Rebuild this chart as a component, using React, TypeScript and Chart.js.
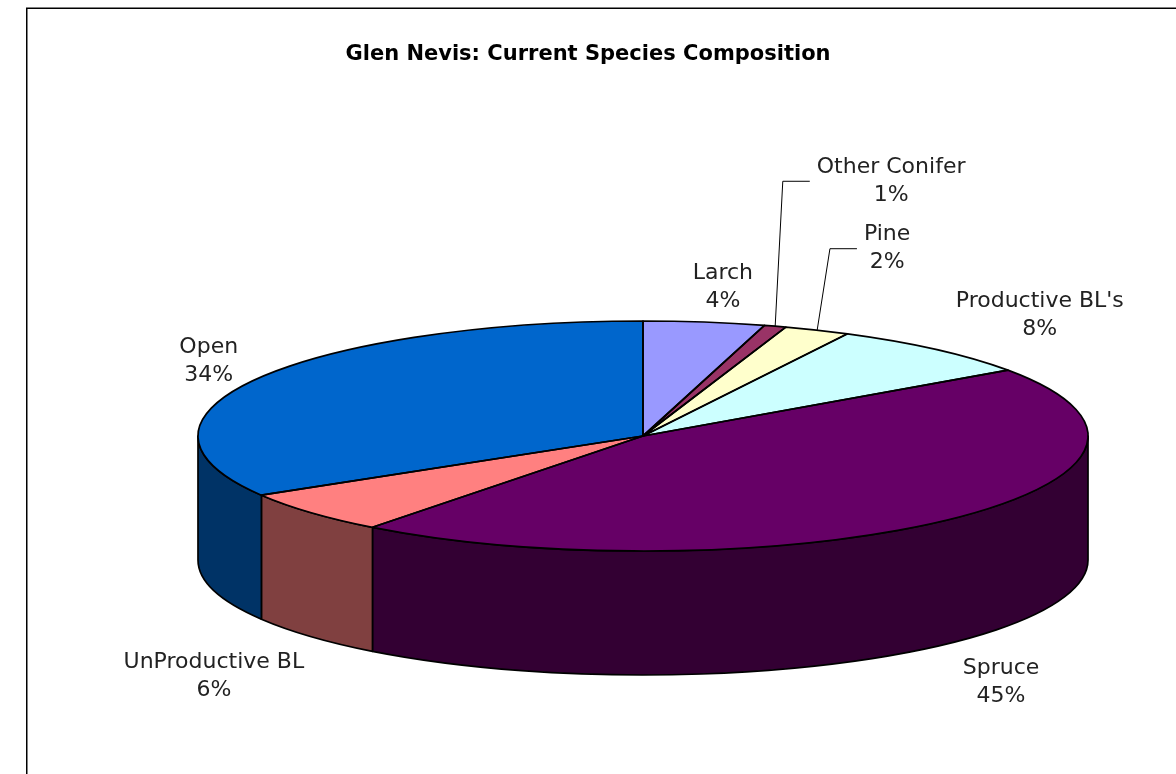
import { useEffect, useRef } from 'react';
import { Chart, registerables } from 'chart.js';

Chart.register(...registerables);

const TITLE = 'Glen Nevis: Current Species Composition';
const categories = ['Larch', 'Other Conifer', 'Pine', "Productive BL's", 'Spruce', 'UnProductive BL', 'Open'];
const shares = [4.4, 0.8, 2.4, 7.7, 45.1, 6.0, 33.6];
const topColors = ['#9999FF', '#993366', '#FFFFCC', '#CCFFFF', '#660066', '#FF8080', '#0066CC'];

function darken(hex: string): string {
  const n = parseInt(hex.slice(1), 16);
  const r = Math.round(((n >> 16) & 255) / 2);
  const g = Math.round(((n >> 8) & 255) / 2);
  const b = Math.round((n & 255) / 2);
  return `rgb(${r},${g},${b})`;
}

const framePlugin = {
  id: 'frame',
  afterDraw(chart: any) {
    const ctx = chart.ctx;
    ctx.save();
    ctx.strokeStyle = '#000';
    ctx.lineWidth = 1.5;
    ctx.beginPath();
    ctx.moveTo(26.75, chart.height);
    ctx.lineTo(26.75, 8.25);
    ctx.lineTo(chart.width, 8.25);
    ctx.stroke();
    ctx.restore();
  },
};

const pie3d = {
  id: 'pie3d',
  beforeDatasetsDraw(chart: any, _args: any, o: any) {
    const arcs = chart.getDatasetMeta(0).data;
    if (!arcs.length) return;
    const ctx = chart.ctx;
    const a0 = arcs[0];
    const cx = a0.x + o.shiftX;
    const cy = a0.y;
    const r = a0.outerRadius;
    const ry = r * o.tilt;
    const D = o.depth;
    const colors = chart.data.datasets[0].backgroundColor;
    ctx.save();
    ctx.lineWidth = o.lineWidth;
    ctx.strokeStyle = o.lineColor;
    ctx.lineJoin = 'round';
    arcs.forEach((arc: any, i: number) => {
      const s = Math.max(arc.startAngle, 0);
      const e = Math.min(arc.endAngle, Math.PI);
      if (e <= s) return;
      ctx.beginPath();
      ctx.ellipse(cx, cy, r, ry, 0, s, e);
      ctx.lineTo(cx + r * Math.cos(e), cy + ry * Math.sin(e) + D);
      ctx.ellipse(cx, cy + D, r, ry, 0, e, s, true);
      ctx.closePath();
      ctx.fillStyle = darken(colors[i]);
      ctx.fill();
      ctx.stroke();
    });
    ctx.restore();
    // squash the top face drawn by Chart.js into an ellipse
    ctx.save();
    ctx.translate(cx, cy);
    ctx.scale(1, o.tilt);
    ctx.translate(-a0.x, -a0.y);
  },
  afterDatasetsDraw(chart: any, _args: any, o: any) {
    const arcs = chart.getDatasetMeta(0).data;
    if (!arcs.length) return;
    const ctx = chart.ctx;
    ctx.restore();
    const a0 = arcs[0];
    const cx = a0.x + o.shiftX;
    const cy = a0.y;
    const r = a0.outerRadius;
    const ry = r * o.tilt;
    const D = o.depth;
    ctx.save();
    ctx.lineWidth = o.lineWidth;
    ctx.strokeStyle = o.lineColor;
    ctx.lineJoin = 'round';
    arcs.forEach((arc: any) => {
      ctx.beginPath();
      ctx.moveTo(cx, cy);
      ctx.ellipse(cx, cy, r, ry, 0, arc.startAngle, arc.endAngle);
      ctx.closePath();
      ctx.stroke();
    });
    ctx.restore();

    const values: number[] = chart.data.datasets[0].data;
    const total = values.reduce((a, b) => a + b, 0);
    const labels: string[] = chart.data.labels;
    ctx.save();
    ctx.font = o.font;
    ctx.fillStyle = o.textColor;
    ctx.textAlign = 'center';
    ctx.textBaseline = 'middle';
    arcs.forEach((arc: any, i: number) => {
      const m = (arc.startAngle + arc.endAngle) / 2;
      const c = Math.cos(m);
      const sn = Math.sin(m);
      const lines = [labels[i], Math.round((values[i] / total) * 100) + '%'];
      const w = Math.max(...lines.map((t) => ctx.measureText(t).width));
      const h = lines.length * o.lineHeight;
      const ax = cx + r * o.labelRadius * c;
      const ay = cy + ry * o.labelRadius * sn + (sn > 0 ? D : 0);
      const [dx, dy] = o.labelShift[i] || [0, 0];
      const bx = ax + (c * w) / 2 + dx;
      const by = ay + (sn * h) / 2 + dy;
      if (o.leader[i]) {
        const ex = bx - w / 2 - 7;
        ctx.save();
        ctx.strokeStyle = o.lineColor;
        ctx.lineWidth = 1;
        ctx.beginPath();
        ctx.moveTo(cx + r * c, cy + ry * sn);
        ctx.lineTo(ex - 27, by);
        ctx.lineTo(ex, by);
        ctx.stroke();
        ctx.restore();
      }
      lines.forEach((t, j) => ctx.fillText(t, bx, by - h / 2 + o.lineHeight * (j + 0.5)));
    });
    ctx.restore();
  },
};

export default function App() {
  const ref = useRef<HTMLCanvasElement | null>(null);
  useEffect(() => {
    if (!ref.current) return;
    const chart = new Chart(ref.current, {
      type: 'pie',
      data: {
        labels: categories,
        datasets: [
          {
            data: shares,
            backgroundColor: topColors,
            borderWidth: 0,
            hoverOffset: 0,
            clip: false,
          } as any,
        ],
      },
      options: {
        responsive: false,
        animation: false,
        events: [],
        radius: 445,
        layout: { padding: 0 },
        plugins: {
          legend: { display: false },
          tooltip: { enabled: false },
          title: {
            display: true,
            text: TITLE,
            color: '#000',
            font: { family: '"DejaVu Sans"', size: 21, weight: 'bold' },
            padding: { top: 42, bottom: 30.8 },
          },
          pie3d: {
            shiftX: 55,
            tilt: 115 / 445,
            depth: 124,
            lineWidth: 1.7,
            lineColor: '#000',
            font: '22px "DejaVu Sans"',
            textColor: '#222',
            lineHeight: 28,
            labelRadius: 1.12,
            labelShift: [[7, 7], [78, -105], [40, -43], [13, -3], [-13, 9], [10, 12], [25, 3]],
            leader: [false, true, true, false, false, false, false],
          },
        } as any,
      } as any,
      plugins: [pie3d, framePlugin],
    });
    return () => chart.destroy();
  }, []);
  return (
    <div style={{ position: 'fixed', left: 0, top: 0, width: 1176, height: 774, background: '#fff' }}>
      <canvas ref={ref} width={1176} height={774} style={{ display: 'block' }} />
    </div>
  );
}
